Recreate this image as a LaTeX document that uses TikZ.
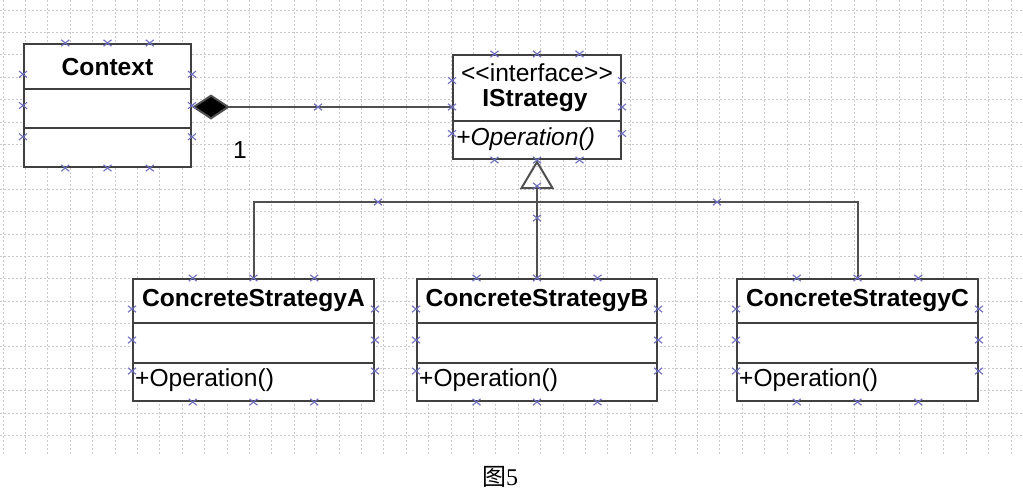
\documentclass[tikz,border=0pt]{standalone}
\usepackage{fontspec}
\setmainfont{Liberation Sans}
\newfontfamily\cjk{Noto Sans CJK SC}
\newfontfamily\serifnum{Liberation Serif}
\usetikzlibrary{arrows.meta,calc}
\definecolor{boxline}{RGB}{64,64,64}
\definecolor{conline}{RGB}{80,80,80}
\definecolor{gridc}{RGB}{200,200,205}
\definecolor{markc}{RGB}{110,110,190}
\tikzset{
  umlbox/.style={draw=boxline, line width=2pt, fill=white, rectangle, inner sep=0pt},
  divider/.style={draw=boxline, line width=1.6pt},
  gridline/.style={draw=gridc, line width=0.8pt, dash pattern=on 1.5pt off 2.5pt},
  conn/.style={draw=conline, line width=2pt},
  xmark/.style={draw=markc, line width=1.1pt},
  txt/.style={inner sep=0pt, font=\fontsize{24.6}{29}\selectfont},
  btxt/.style={inner sep=0pt, font=\fontsize{24.6}{29}\selectfont\bfseries},
}
\newcommand{\xmk}[1]{\draw[xmark] #1 +(-4,-3.2) -- +(4,3.2) #1 +(-4,3.2) -- +(4,-3.2);}
\begin{document}
\begin{tikzpicture}[x=1pt,y=-1pt]
\useasboundingbox (0,0) rectangle (1023,499);
\fill[white] (0,0) rectangle (1023,499);
% grid
\foreach \i in {0,...,45} {\draw[gridline] ({3+22.4*\i},0) -- ({3+22.4*\i},455);}
\foreach \j in {0,...,19} {\draw[gridline] (0,{10+22.4*\j}) -- (1023,{10+22.4*\j});}
% boxes
\node[umlbox, minimum width=167pt, minimum height=123pt] (ctx) at (107.5,105.5) {};
\node[umlbox, minimum width=168pt, minimum height=104pt] (is) at (537,107) {};
\node[umlbox, minimum width=241pt, minimum height=122pt] (A) at (253.5,340) {};
\node[umlbox, minimum width=240pt, minimum height=122pt] (B) at (537,340) {};
\node[umlbox, minimum width=241pt, minimum height=122pt] (C) at (857.5,340) {};
% dividers
\draw[divider] (ctx.west |- 0,89) -- (ctx.east |- 0,89);
\draw[divider] (ctx.west |- 0,128) -- (ctx.east |- 0,128);
\draw[divider] (is.west |- 0,121) -- (is.east |- 0,121);
\foreach \b in {A,B,C} {
  \draw[divider] (\b.west |- 0,323) -- (\b.east |- 0,323);
  \draw[divider] (\b.west |- 0,363) -- (\b.east |- 0,363);
}
% texts
\node[btxt] (ctxt) at (107.5,67) {Context};
\node[txt] (ist1) at (537,73) {<{}<interface>{}>};
\node[btxt] (ist2) at (535,101) {IStrategy};
\node[txt, anchor=west] (isop) at (456,139) {\itshape +Operation()};
\node[btxt] (at) at (253.5,301) {ConcreteStrategyA};
\node[btxt] (bt) at (537,301) {ConcreteStrategyB};
\node[btxt] (ct) at (857.5,301) {ConcreteStrategyC};
\node[txt, anchor=west] (aop) at (135,380) {+Operation()};
\node[txt, anchor=west] (bop) at (419,380) {+Operation()};
\node[txt, anchor=west] (cop) at (739,380) {+Operation()};
\node[txt] (one) at (240,150) {1};
% connectors
\draw[conn, -{Diamond[length=38pt,width=25pt,fill=black]}] (is.west) -- (ctx.east |- is.west);
\coordinate (bar) at (537,202);
\draw[conn, -{Triangle[open,length=29pt,width=34pt,line width=2pt]}] (B.north) -- (is.south);
\draw[conn] (A.north) |- (bar) -| (C.north);
% markers on boxes
\foreach \b in {ctx,is,A,B,C} {
  \foreach \t in {0.25,0.5,0.75} {
    \xmk{($(\b.north west)!\t!(\b.north east)$)}
    \xmk{($(\b.south west)!\t!(\b.south east)$)}
    \xmk{($(\b.north west)!\t!(\b.south west)$)}
    \xmk{($(\b.north east)!\t!(\b.south east)$)}
  }
}
% markers on connectors
\xmk{(318,107)}
\xmk{(378,202)}
\xmk{(717,202)}
\xmk{(537,186)}
\xmk{(537,218)}
% caption
\node[inner sep=0pt] (cap) at (500,477) {\fontsize{24}{28}\selectfont\cjk 图\serifnum 5};
\end{tikzpicture}
\end{document}
